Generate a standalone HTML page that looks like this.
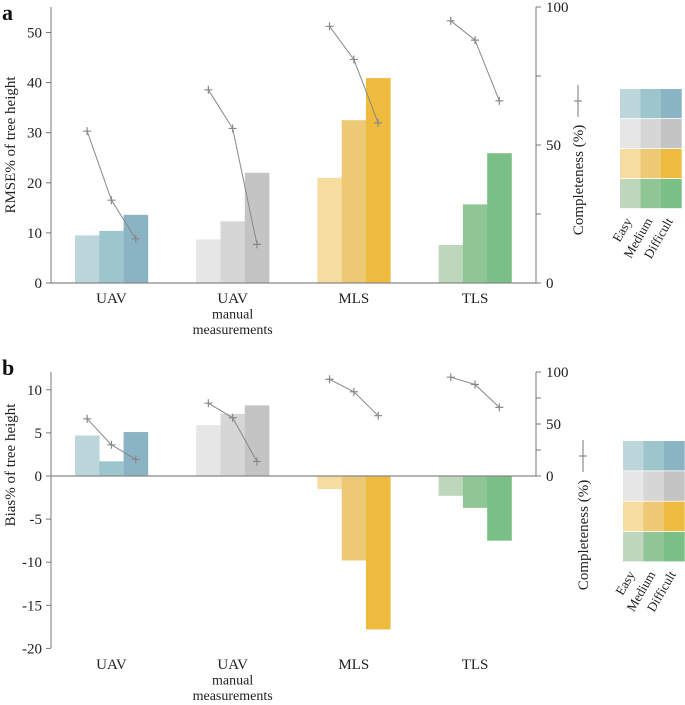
<!DOCTYPE html>
<html><head><meta charset="utf-8"><style>
body{margin:0;background:#fff}
svg{display:block;font-family:"Liberation Serif",serif}
</style></head><body>
<svg id="c" width="685" height="705" viewBox="0 0 685 705"></svg>
<script>
const categories = ["UAV", "UAV|manual|measurements", "MLS", "TLS"];
const difficulties = ["Easy", "Medium", "Difficult"];
const rmseValues = [[9.5,10.4,13.6],[8.7,12.3,22],[21,32.5,40.9],[7.6,15.7,25.9]];
const biasValues = [[4.7,1.7,5.1],[5.9,7.2,8.2],[-1.5,-9.8,-17.8],[-2.3,-3.7,-7.5]];
const completenessA = [[55,30,16],[70,56,14],[93,81,58],[95,88,66]];
const completenessB = [[55,30,16],[70,56,14],[93,81,58],[95,88,66]];
const rmseTicks = [0,10,20,30,40,50];
const biasTicks = [10,5,0,-5,-10,-15,-20];
const compTicks = [0,50,100];
const palette = [["#bcd6dc","#9dc5cc","#8ab3c4"],["#e6e6e6","#d6d6d6","#c4c4c4"],["#f6dca0","#eec975","#efbb3f"],["#bed6bc","#90c696","#7abf85"]];

const svg = document.getElementById('c');
const NS = 'http://www.w3.org/2000/svg';
function el(tag, attrs, parent){const e=document.createElementNS(NS,tag);for(const k in attrs)e.setAttribute(k,attrs[k]);(parent||svg).appendChild(e);return e;}
const BW = 24.3, G0 = 75, GS = 121.2;
const barX = (g,i)=> G0 + g*GS + i*BW;
const AXL = 51, AXR = 536;

function panel(o){
  const g = el('g',{});
  
  
  const y = v => o.y0 - v*o.ppu;
  const yc = v => o.y0c - v*o.ppc;
  // bars
  o.values.forEach((vals,gi)=>vals.forEach((v,i)=>{
    const top = Math.min(y(v), o.y0), h = Math.abs(y(v)-o.y0);
    const r = el('rect',{x:barX(gi,i),y:top,width:BW+0.3,height:h,fill:palette[gi][i]},g);
    
    
  }));
  // left axis
  el('line',{x1:AXL,y1:o.axTop,x2:AXL,y2:o.axBot,stroke:'#777','stroke-width':1},g);
  o.ticks.forEach(t=>{
    el('line',{x1:AXL-5,y1:y(t),x2:AXL,y2:y(t),stroke:'#777'},g);
    const tx = el('text',{x:AXL-9,y:y(t)+5,'text-anchor':'end','font-size':15,fill:'#222'},g);
    tx.textContent = t;
    
    
  });
  // baseline
  el('line',{x1:AXL,y1:o.y0,x2:AXR,y2:o.y0,stroke:'#888','stroke-width':1.3},g);
  // right axis
  el('line',{x1:AXR,y1:yc(100),x2:AXR,y2:yc(0),stroke:'#777'},g);
  [0,25,50,75,100].forEach(t=>el('line',{x1:AXR,y1:yc(t),x2:AXR+5,y2:yc(t),stroke:'#777'},g));
  compTicks.forEach(t=>{
    const tx = el('text',{x:AXR+10,y:yc(t)+5,'font-size':15,fill:'#222'},g);
    tx.textContent = t;
    
    
  });
  // completeness lines
  o.comp.forEach((vals,gi)=>{
    const pts = vals.map((v,i)=>[barX(gi,i)+BW/2, yc(v)]);
    const pl = el('polyline',{points:pts.map(p=>p.join(',')).join(' '),fill:'none',stroke:'#888','stroke-width':1},g);
    
    
    pts.forEach(p=>{
      el('path',{d:`M${p[0]-4},${p[1]}h8M${p[0]},${p[1]-4}v8`,stroke:'#888','stroke-width':1.2},g);
    });
  });
  // category labels
  categories.forEach((c,gi)=>{
    c.split('|').forEach((s,li)=>{
      const tx = el('text',{x:G0+gi*GS+BW*1.5,y:o.labY+li*15.5,'text-anchor':'middle','font-size':li?14:15,fill:'#222'},g);
      tx.textContent = s;
      
      
    });
  });
  // y title
  const yt = el('text',{x:0,y:0,'text-anchor':'middle','font-size':15,fill:'#222',transform:`translate(${o.ytX},${o.ytY}) rotate(-90)`},g);
  yt.textContent = o.ytitle;
  
  
  // completeness title + marker
  const ct = el('text',{x:0,y:0,'text-anchor':'middle','font-size':15,fill:'#222',transform:`translate(${o.ctX},${o.ctY}) rotate(-90)`},g);
  ct.textContent = 'Completeness (%)';
  
  
  el('line',{x1:o.ctX-5,y1:o.mkY-16,x2:o.ctX-5,y2:o.mkY+16,stroke:'#777'},g);
  el('path',{d:`M${o.ctX-9},${o.mkY}h8M${o.ctX-5},${o.mkY-4}v8`,stroke:'#777'},g);
  // panel letter
  const pl = el('text',{x:2,y:o.letY,'font-size':22,'font-weight':'bold',fill:'#111'},g);
  pl.textContent = o.letter;
  
  
  // legend
  const lg = el('g',{},g);
  
  
  const cw = 20.5, rh = o.legH;
  palette.forEach((row,ri)=>row.forEach((col,ci)=>{
    el('rect',{x:o.legX+ci*cw,y:o.legY+ri*rh,width:cw+0.2,height:rh-0.8,fill:col},lg);
  }));
  difficulties.forEach((d,ci)=>{
    const cx = o.legX+ci*cw+cw/2+2, cy = o.legY+4*rh+12;
    const tx = el('text',{x:0,y:0,'text-anchor':'end','font-size':13,fill:'#222',transform:`translate(${cx},${cy}) rotate(-60)`},lg);
    tx.textContent = d;
    
    
  });
}
panel({name:'panel-a-rmse',values:rmseValues,comp:completenessA,y0:283,ppu:5.01,y0c:283,ppc:2.76,
  axTop:7,axBot:283,ticks:rmseTicks,labY:303,ytitle:'RMSE% of tree height',ytX:15,ytY:145,
  ctX:583,ctY:180,mkY:101,letter:'a',letY:20,legX:620,legY:89,legH:30});
panel({name:'panel-b-bias',values:biasValues,comp:completenessB,y0:476,ppu:8.62,y0c:476,ppc:1.04,
  axTop:372,axBot:648,ticks:biasTicks,labY:669,ytitle:'Bias% of tree height',ytX:15,ytY:465,
  ctX:588,ctY:535,mkY:456,letter:'b',letY:375,legX:623,legY:441,legH:30.3});
</script>
</body></html>
